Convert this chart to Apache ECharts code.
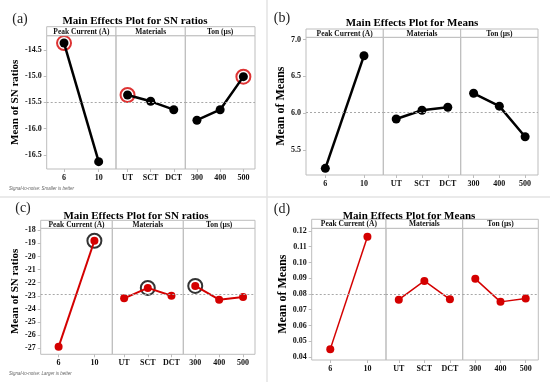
<!DOCTYPE html>
<html>
<head>
<meta charset="utf-8">
<script src="https://cdn.jsdelivr.net/npm/echarts@6/dist/echarts.min.js"></script>
<style>html,body{margin:0;padding:0;background:#fff;}#c{width:550px;height:382px;}</style>
</head>
<body>
<div id="c"></div>
<script>
// ---- categories ----
const catPeak = ['6', '10'];
const catMat = ['UT', 'SCT', 'DCT'];
const catTon = ['300', '400', '500'];
const factorNames = ['Peak Current (A)', 'Materials', 'Ton (µs)'];

// ---- (a) SN ratios, smaller is better ----
const snA_peak = [-14.37, -16.63];
const snA_mat = [-15.36, -15.48, -15.64];
const snA_ton = [-15.84, -15.64, -15.01];
const ringA = [0, 0, 2];
const ticksA = [-14.5, -15.0, -15.5, -16.0, -16.5];

// ---- (b) Means ----
const meanB_peak = [5.25, 6.78];
const meanB_mat = [5.92, 6.04, 6.08];
const meanB_ton = [6.27, 6.095, 5.68];
const ticksB = [7.0, 6.5, 6.0, 5.5];

// ---- (c) SN ratios, larger is better ----
const snC_peak = [-26.9, -18.8];
const snC_mat = [-23.2, -22.4, -23.0];
const snC_ton = [-22.25, -23.3, -23.1];
const ringC = [1, 1, 0];
const ticksC = [-18, -19, -20, -21, -22, -23, -24, -25, -26, -27];

// ---- (d) Means ----
const meanD_peak = [0.045, 0.1164];
const meanD_mat = [0.0764, 0.0883, 0.0766];
const meanD_ton = [0.0896, 0.075, 0.0771];
const ticksD = [0.12, 0.11, 0.10, 0.09, 0.08, 0.07, 0.06, 0.05, 0.04];

const cats = [catPeak, catMat, catTon];
const RED = '#d40000';
const SERIF = '"Liberation Serif", "DejaVu Serif", serif';

const panels = [
  { vals: [snA_peak, snA_mat, snA_ton], ring: ringA, ringColor: RED, ticks: ticksA, dec: 1,
    xs: [46.7, 116, 185.3, 255], top: 26.7, hb: 35.7, bottom: 169, min: -16.77, max: -14.23,
    color: '#000', lw: 2.5, sym: 9, yname: 'Mean of SN ratios', nameSize: 11, nameGap: 18,
    title: 'Main Effects Plot for SN ratios', tx: 135, ty: 21, lab: '(a)', lx: 20, ly: 19,
    foot: 'Signal-to-noise: Smaller is better', fx: 9, fy: 189 },
  { vals: [meanB_peak, meanB_mat, meanB_ton], ring: null, ticks: ticksB, dec: 1,
    xs: [306, 383.3, 460.7, 538], top: 29, hb: 37.3, bottom: 175, min: 5.16, max: 7.03,
    color: '#000', lw: 2.5, sym: 9, yname: 'Mean of Means', nameSize: 12, nameGap: 13,
    title: 'Main Effects Plot for Means', tx: 412, ty: 23, lab: '(b)', lx: 282, ly: 18 },
  { vals: [snC_peak, snC_mat, snC_ton], ring: ringC, ringColor: '#000', ticks: ticksC, dec: 0,
    xs: [40.7, 112.3, 183.3, 255], top: 220.3, hb: 228.3, bottom: 354.3, min: -27.47, max: -17.85,
    color: RED, lw: 2, sym: 8, yname: 'Mean of SN ratios', nameSize: 11, nameGap: 12,
    title: 'Main Effects Plot for SN ratios', tx: 136, ty: 216, lab: '(c)', lx: 23, ly: 208,
    foot: 'Signal-to-noise: Larger is better', fx: 9, fy: 374 },
  { vals: [meanD_peak, meanD_mat, meanD_ton], ring: null, ticks: ticksD, dec: 2,
    xs: [311.7, 386, 462.7, 538.3], top: 219.3, hb: 228.3, bottom: 360, min: 0.0381, max: 0.1217,
    color: RED, lw: 1.5, sym: 8, yname: 'Mean of Means', nameSize: 12, nameGap: 18,
    title: 'Main Effects Plot for Means', tx: 409, ty: 216, lab: '(d)', lx: 282, ly: 209 }
];

const grid = [], xAxis = [], yAxis = [], series = [], graphic = [];
const BORDER = '#bdbdbd';

// separators between the four panels
graphic.push({ type: 'line', shape: { x1: 267, y1: 0, x2: 267, y2: 382 }, style: { stroke: '#e3e3e3', lineWidth: 1.5 }, z: 0 });
graphic.push({ type: 'line', shape: { x1: 0, y1: 197, x2: 550, y2: 197 }, style: { stroke: '#e3e3e3', lineWidth: 1.5 }, z: 0 });

panels.forEach(function (p) {
  const factorMeans = p.vals.map(function (v) { return v.reduce(function (a, b) { return a + b; }, 0) / v.length; });
  const grand = factorMeans.reduce(function (a, b) { return a + b; }, 0) / factorMeans.length;
  for (let f = 0; f < 3; f++) {
    const idx = grid.length;
    const x0 = p.xs[f], x1 = p.xs[f + 1];
    grid.push({ left: x0, width: x1 - x0, top: p.hb, height: p.bottom - p.hb, show: true,
      borderColor: BORDER, borderWidth: 1, backgroundColor: 'transparent', containLabel: false, outerBoundsMode: 'none' });
    xAxis.push({ type: 'category', gridIndex: idx, data: cats[f], boundaryGap: true,
      axisLine: { show: false }, axisTick: { show: true, alignWithLabel: true, length: 3, lineStyle: { color: BORDER } },
      axisLabel: { margin: 5, fontFamily: SERIF, fontWeight: 'bold', fontSize: 8, color: '#111' },
      splitLine: { show: false } });
    const ya = { type: 'value', gridIndex: idx, min: p.min, max: p.max, splitLine: { show: false },
      axisLine: { show: false }, axisTick: { show: false }, axisLabel: { show: false } };
    if (f === 0) {
      ya.axisTick = { show: true, length: 3, customValues: p.ticks, lineStyle: { color: BORDER } };
      ya.axisLabel = { show: true, customValues: p.ticks, margin: 5, fontFamily: SERIF, fontWeight: 'bold', fontSize: 8, color: '#111',
        formatter: function (v) { return Number(v).toFixed(p.dec); } };
      ya.name = p.yname;
      ya.nameLocation = 'middle';
      ya.nameGap = p.nameGap;
      ya.nameTextStyle = { fontFamily: SERIF, fontWeight: 'bold', fontSize: p.nameSize, color: '#000' };
    }
    yAxis.push(ya);
    series.push({ type: 'line', xAxisIndex: idx, yAxisIndex: idx, data: p.vals[f],
      symbol: 'circle', symbolSize: p.sym, showSymbol: true, animation: false,
      lineStyle: { color: p.color, width: p.lw }, itemStyle: { color: p.color }, z: 3,
      markLine: { silent: true, symbol: 'none', animation: false, label: { show: false },
        lineStyle: { color: '#a8a8a8', type: [2, 2], width: 1 }, data: [{ yAxis: grand }] } });
    if (p.ring) {
      const k = p.ring[f];
      series.push({ type: 'scatter', xAxisIndex: idx, yAxisIndex: idx, data: [[cats[f][k], p.vals[f][k]]],
        symbol: 'circle', symbolSize: 14, animation: false, z: 2,
        itemStyle: { color: 'rgba(255,255,255,0)', borderColor: p.ringColor, borderWidth: 2 } });
    }
    // header strip
    graphic.push({ type: 'rect', shape: { x: x0, y: p.top, width: x1 - x0, height: p.hb - p.top },
      style: { fill: '#fff', stroke: BORDER, lineWidth: 1 }, z: 5 });
    graphic.push({ type: 'text', x: (x0 + x1) / 2, y: (p.top + p.hb) / 2 + 0.5, z: 6,
      style: { text: factorNames[f], font: 'bold 7.5px ' + SERIF, fill: '#111', align: 'center', verticalAlign: 'middle' } });
  }
  graphic.push({ type: 'text', x: p.tx, y: p.ty, z: 7,
    style: { text: p.title, font: 'bold 11px ' + SERIF, fill: '#000', align: 'center', verticalAlign: 'middle' } });
  graphic.push({ type: 'text', x: p.lx, y: p.ly, z: 7,
    style: { text: p.lab, font: '14px ' + SERIF, fill: '#222', align: 'center', verticalAlign: 'middle' } });
  if (p.foot) {
    graphic.push({ type: 'text', x: p.fx, y: p.fy, z: 7,
      style: { text: p.foot, font: 'italic 4.5px "Liberation Sans", sans-serif', fill: '#666', align: 'left', verticalAlign: 'middle' } });
  }
});

const chart = echarts.init(document.getElementById('c'), null, { renderer: 'canvas' });
chart.setOption({ backgroundColor: '#fff', animation: false, grid: grid, xAxis: xAxis, yAxis: yAxis, series: series, graphic: graphic });
</script>
</body>
</html>
